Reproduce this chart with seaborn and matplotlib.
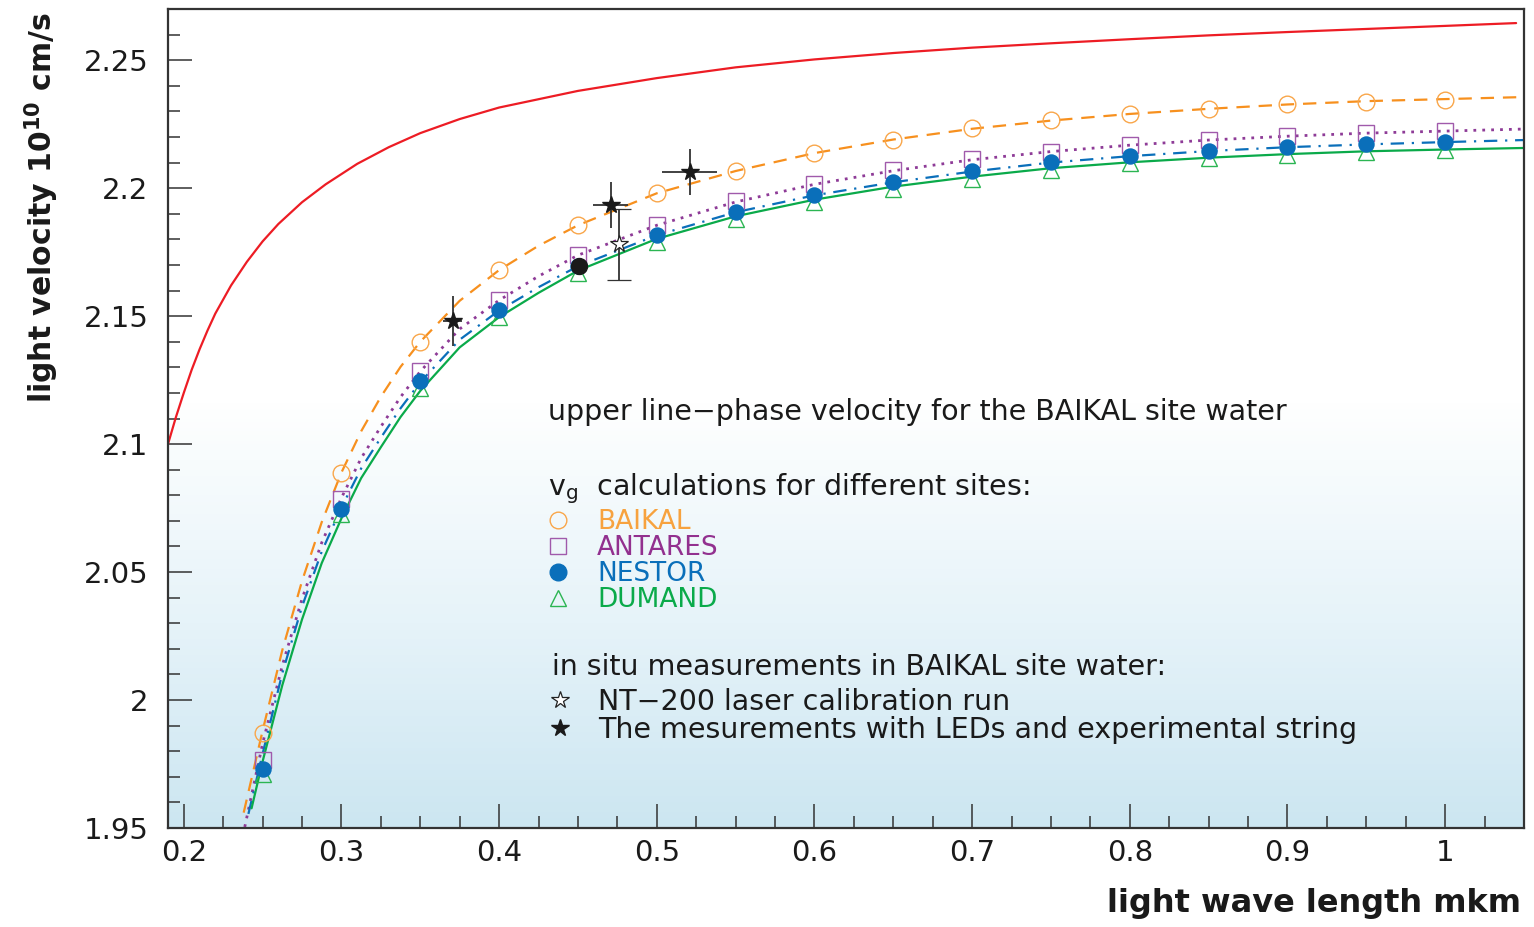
import numpy as np
import matplotlib
matplotlib.use("Agg")
import matplotlib.pyplot as plt
from matplotlib.lines import Line2D
from matplotlib.colors import LinearSegmentedColormap
from matplotlib.ticker import MultipleLocator, FixedLocator, FixedFormatter
import seaborn as sns

# ---- marker points of the v_g calculations (wavelength in mkm) ----
wl = [0.25, 0.30, 0.35, 0.40, 0.45, 0.50, 0.55, 0.60, 0.65, 0.70,
      0.75, 0.80, 0.85, 0.90, 0.95, 1.00]
baikal = [1.9870, 2.0889, 2.1398, 2.1680, 2.1855, 2.1980, 2.2067, 2.2137,
          2.2190, 2.2235, 2.2266, 2.2290, 2.2310, 2.2329, 2.2337, 2.2344]
antares = [1.9766, 2.0787, 2.1284, 2.1562, 2.1738, 2.1855, 2.1949, 2.2016,
           2.2070, 2.2113, 2.2141, 2.2168, 2.2188, 2.2203, 2.2215, 2.2223]
nestor = [1.9730, 2.0748, 2.1245, 2.1523, 2.1695, 2.1816, 2.1906, 2.1973,
          2.2023, 2.2067, 2.2102, 2.2125, 2.2145, 2.2161, 2.2172, 2.2180]
dumand = [1.9710, 2.0725, 2.1218, 2.1495, 2.1667, 2.1789, 2.1879, 2.1945,
          2.1996, 2.2035, 2.2070, 2.2098, 2.2117, 2.2129, 2.2141, 2.2149]

# ---- calculated curves ----
phase_x = [0.19, 0.195, 0.20, 0.205, 0.21, 0.215, 0.22, 0.23, 0.24, 0.25, 0.26,
           0.275, 0.29, 0.31, 0.33, 0.35, 0.375, 0.40, 0.45, 0.50, 0.55, 0.60,
           0.65, 0.70, 0.75, 0.80, 0.85, 0.90, 0.95, 1.00, 1.045]
phase_y = [2.1000, 2.1105, 2.1200, 2.1290, 2.1370, 2.1443, 2.1510, 2.1620,
           2.1712, 2.1792, 2.1860, 2.1945, 2.2015, 2.2095, 2.2160, 2.2215,
           2.2270, 2.2315, 2.2380, 2.2430, 2.2472, 2.2503, 2.2528, 2.2549,
           2.2566, 2.2582, 2.2597, 2.2610, 2.2622, 2.2634, 2.2645]

curve_x = [0.25, 0.2625, 0.275, 0.2875, 0.30, 0.3125, 0.325, 0.3375, 0.35,
           0.375, 0.40, 0.425, 0.45, 0.50, 0.55, 0.60, 0.65, 0.70, 0.75,
           0.80, 0.85, 0.90, 0.95, 1.00, 1.05]
baikal_start = (0.238, 1.9560)
baikal_curve = [1.9880, 2.0195, 2.0465, 2.0695, 2.0889, 2.1050, 2.1185, 2.1302,
                2.1400, 2.1560, 2.1680, 2.1775, 2.1855, 2.1980, 2.2067, 2.2137,
                2.2190, 2.2232, 2.2264, 2.2290, 2.2310, 2.2327, 2.2340, 2.2348,
                2.2356]
antares_start = (0.2375, 1.9470)
antares_curve = [1.9830, 2.0135, 2.0395, 2.0615, 2.0790, 2.0945, 2.1068, 2.1184,
                 2.1284, 2.1450, 2.1562, 2.1656, 2.1738, 2.1855, 2.1946, 2.2015,
                 2.2068, 2.2111, 2.2143, 2.2168, 2.2188, 2.2203, 2.2215, 2.2223,
                 2.2231]
nestor_start = (0.241, 1.9555)
nestor_curve = [1.9790, 2.0105, 2.0365, 2.0580, 2.0752, 2.0905, 2.1025, 2.1140,
                2.1242, 2.1408, 2.1522, 2.1613, 2.1695, 2.1816, 2.1906, 2.1972,
                2.2023, 2.2065, 2.2100, 2.2125, 2.2145, 2.2160, 2.2171, 2.2180,
                2.2188]
dumand_start = (0.243, 1.9577)
dumand_curve = [1.9760, 2.0058, 2.0315, 2.0535, 2.0710, 2.0867, 2.0988, 2.1106,
                2.1208, 2.1378, 2.1496, 2.1591, 2.1678, 2.1802, 2.1890, 2.1955,
                2.2006, 2.2045, 2.2078, 2.2101, 2.2119, 2.2133, 2.2144, 2.2151,
                2.2157]

# ---- in situ measurements ----
led_x = [0.3706, 0.4708, 0.5209]
led_y = [2.1480, 2.1933, 2.2063]
led_xerr = [0.006, 0.011, 0.0173]
led_yerr = [0.0098, 0.0090, 0.0089]
laser_x = [0.4759]
laser_y = [2.1781]
laser_yerr = [0.0139]
dot_x = [0.4509]
dot_y = [2.1696]

x_ticks = [0.2, 0.3, 0.4, 0.5, 0.6, 0.7, 0.8, 0.9, 1.0]
x_tick_labels = ["0.2", "0.3", "0.4", "0.5", "0.6", "0.7", "0.8", "0.9", "1"]
y_ticks = [1.95, 2.0, 2.05, 2.1, 2.15, 2.2, 2.25]
y_tick_labels = ["1.95", "2", "2.05", "2.1", "2.15", "2.2", "2.25"]

# colours
c_red = "#ed1c24"
c_orange = "#f7901e"
c_orange_mk = "#f9a64a"
c_purple = "#8e3b97"
c_purple_mk = "#a05aab"
c_blue = "#0a6fba"
c_green = "#0aaa4a"
c_green_mk = "#2bb552"
c_text = "#1a1a1a"

sns.set_style("white")
plt.rcParams["font.family"] = ["DejaVu Sans"]
plt.rcParams["mathtext.fontset"] = "dejavusans"

fig = plt.figure(figsize=(15.34, 9.27), dpi=100)
ax = fig.add_axes([168 / 1534, 1 - 828 / 927, 1356 / 1534, 819 / 927])

# background gradient (white at top, light blue at bottom)
bg = LinearSegmentedColormap.from_list(
    "bg", [(0.0, "#cce6f1"), (0.25, "#e6f3f9"), (0.45, "#f8fcfd"),
           (0.52, "#ffffff"), (1.0, "#ffffff")])
ax.imshow(np.linspace(0, 1, 256)[:, None], origin="lower", aspect="auto",
          cmap=bg, extent=(0, 1, 0, 1), transform=ax.transAxes, zorder=0)

# curves
sns.lineplot(x=phase_x, y=phase_y, ax=ax, color=c_red, lw=1.6, zorder=2)
sns.lineplot(x=[baikal_start[0]] + curve_x, y=[baikal_start[1]] + baikal_curve,
             ax=ax, color=c_orange, lw=1.6, linestyle=(0, (6, 4)), zorder=2)
sns.lineplot(x=[antares_start[0]] + curve_x, y=[antares_start[1]] + antares_curve,
             ax=ax, color=c_purple, lw=2.0, linestyle=(0, (1, 2.2)), zorder=2)
sns.lineplot(x=[nestor_start[0]] + curve_x, y=[nestor_start[1]] + nestor_curve,
             ax=ax, color=c_blue, lw=1.6, linestyle=(0, (6, 3.5, 1, 3.5)), zorder=2)
sns.lineplot(x=[dumand_start[0]] + curve_x, y=[dumand_start[1]] + dumand_curve,
             ax=ax, color=c_green, lw=1.6, zorder=2)

# markers
ax.plot(wl, baikal, "o", ms=12, mfc="none", mec=c_orange_mk, mew=1.0, zorder=3)
ax.plot(wl, antares, "s", ms=11, mfc="none", mec=c_purple_mk, mew=1.0, zorder=3)
sns.scatterplot(x=wl, y=nestor, ax=ax, marker="o", s=140, color=c_blue,
                edgecolor=c_blue, linewidth=0, zorder=4)
ax.plot(wl, dumand, "^", ms=12, mfc="none", mec=c_green_mk, mew=1.0, zorder=3)

# measurements
ax.plot(dot_x, dot_y, "o", ms=11.5, color=c_text, zorder=5)
ax.errorbar(laser_x, laser_y, yerr=laser_yerr, fmt="*", ms=13, mfc="white",
            mec="#222222", mew=0.9, ecolor="#333333", elinewidth=1.3,
            capsize=8.5, capthick=1.3, zorder=6)
ax.errorbar(led_x, led_y, xerr=led_xerr, yerr=led_yerr, fmt="*", ms=13,
            color=c_text, ecolor="#333333", elinewidth=1.3, capsize=0,
            zorder=6)

ax.set_xlim(0.19, 1.05)
ax.set_ylim(1.95, 2.27)
ax.xaxis.set_major_locator(FixedLocator(x_ticks))
ax.xaxis.set_major_formatter(FixedFormatter(x_tick_labels))
ax.yaxis.set_major_locator(FixedLocator(y_ticks))
ax.yaxis.set_major_formatter(FixedFormatter(y_tick_labels))
ax.xaxis.set_minor_locator(MultipleLocator(0.025))
ax.yaxis.set_minor_locator(MultipleLocator(0.01))
ax.tick_params(which="both", direction="in", color="#333333", width=1.1,
               top=False, right=False, bottom=True, left=True)
ax.tick_params(which="major", length=17, labelsize=21, labelcolor=c_text)
ax.tick_params(axis="y", which="major", pad=14)
ax.tick_params(axis="x", which="major", pad=8)
ax.tick_params(which="minor", length=8.5)
for s in ax.spines.values():
    s.set_color("#333333")
    s.set_linewidth(1.6)

ax.set_ylabel(r"light velocity 10$^{\mathbf{10}}$ cm/s", fontsize=21.5,
              fontweight="bold", color=c_text)
ax.yaxis.set_label_coords(-0.079, 0.758)
ax.set_xlabel("light wave length mkm", fontsize=23, fontweight="bold",
              color=c_text, loc="right")
ax.xaxis.set_label_coords(0.998, -0.073)

# annotation block
ax.text(0.2802, 0.508, "upper line\u2212phase velocity for the BAIKAL site water",
        transform=ax.transAxes, fontsize=20.5, color=c_text, va="center")
ax.text(0.2802, 0.414, r"v$_{\rm g}$  calculations for different sites:",
        transform=ax.transAxes, fontsize=20.5, color=c_text, va="center")
ax.text(0.2832, 0.1966, "in situ measurements in BAIKAL site water:",
        transform=ax.transAxes, fontsize=20.5, color=c_text, va="center")

# legends
site_handles = [
    Line2D([], [], ls="none", marker="o", ms=12, mfc="none", mec=c_orange_mk, mew=1.0),
    Line2D([], [], ls="none", marker="s", ms=11, mfc="none", mec=c_purple_mk, mew=1.0),
    Line2D([], [], ls="none", marker="o", ms=12, color=c_blue),
    Line2D([], [], ls="none", marker="^", ms=12, mfc="none", mec=c_green_mk, mew=1.0),
]
site_labels = ["BAIKAL", "ANTARES", "NESTOR", "DUMAND"]
site_colors = ["#f7a23e", "#92308f", "#0a6fba", "#0aaa4a"]
leg1 = ax.legend(site_handles, site_labels, loc="upper left",
                 bbox_to_anchor=(0.2788, 0.3895), frameon=False, fontsize=19,
                 borderpad=0, borderaxespad=0, handlelength=0.9,
                 handletextpad=1.03, labelspacing=0.0)
for t, c in zip(leg1.get_texts(), site_colors):
    t.set_color(c)
ax.add_artist(leg1)

meas_handles = [
    Line2D([], [], ls="none", marker="*", ms=13, mfc="white", mec="#222222", mew=0.9),
    Line2D([], [], ls="none", marker="*", ms=13, color=c_text),
]
meas_labels = ["NT\u2212200 laser calibration run",
               "The mesurements with LEDs and experimental string"]
leg2 = ax.legend(meas_handles, meas_labels, loc="upper left",
                 bbox_to_anchor=(0.2800, 0.171), frameon=False, fontsize=20.5,
                 borderpad=0, borderaxespad=0, handlelength=0.9,
                 handletextpad=0.86, labelspacing=0.0)
for t in leg2.get_texts():
    t.set_color(c_text)

fig.savefig("out.png", dpi=100)
